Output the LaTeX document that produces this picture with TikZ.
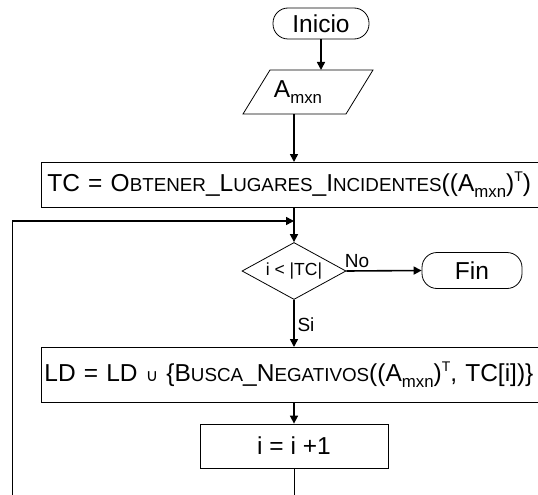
\documentclass[tikz,border=0pt]{standalone}
\usepackage{fontspec}
\setmainfont{Liberation Sans}
\newfontfamily\djv{DejaVu Sans}
\usetikzlibrary{arrows.meta,shapes.geometric}
\newcommand\smc[1]{{\fontsize{18.8}{19}\selectfont #1}}
\newcommand\sbs[1]{\raisebox{-5.5pt}{\fontsize{16.8}{17}\selectfont #1}}
\newcommand\sps[1]{\raisebox{10pt}{\fontsize{14}{14}\selectfont #1}}
\begin{document}
\begin{tikzpicture}[x=1pt,y=-1pt, font=\fontsize{24.5}{27}\selectfont,
  conn/.style={line width=1.6pt, -{Triangle[length=8pt,width=8pt]}},
  box/.style={draw, line width=0.8pt, inner sep=0pt},
  term/.style={draw, line width=0.8pt, rounded corners=15pt, inner sep=0pt},
  lbl/.style={font=\fontsize{19}{21}\selectfont, inner sep=0pt}]
\useasboundingbox (0,0) rectangle (538,495);
\clip (0,0) rectangle (538,495);
% start
\node[term, minimum width=96pt, minimum height=31pt] (ini) at (321,23.5) {Inicio};
% input parallelogram
\coordinate (pt) at (321,70);
\coordinate (pb) at (294,114);
\draw[line width=0.8pt] (270,70) -- (373,70) -- (346,114) -- (243,114) -- cycle;
\node[inner sep=0pt] (amn) at (298,92) {A\sbs{mxn}};
% TC box
\node[box, anchor=north west, minimum height=45pt, text width=520pt, inner xsep=6pt, align=left] (tc) at (41,162)
  {TC = O\smc{BTENER}\_L\smc{UGARES}\_I\smc{NCIDENTES}((A\sbs{mxn})\sps{T})};
% decision
\node[draw, line width=0.8pt, shape=diamond, aspect=1.83, minimum width=104pt, minimum height=57pt, inner sep=0pt,
  font=\fontsize{17.5}{20}\selectfont] (dec) at (294,271) {i < |TC|};
\node[term, minimum width=100pt, minimum height=36pt] (fin) at (472,270.5) {Fin};
\node[lbl] (no) at (357,261) {No};
\node[lbl] (si) at (306,325) {Si};
% LD box
\node[box, anchor=north west, minimum height=55pt, text width=540pt, inner xsep=3pt, align=left] (ld) at (41,347)
  {LD = LD {\djv\fontsize{17}{17}\selectfont ∪} \{B\smc{USCA}\_N\smc{EGATIVOS}((A\sbs{mxn})\sps{T}, TC[i])\}};
% increment
\node[box, minimum width=188pt, minimum height=44pt] (inc) at (294,446) {i = i +1};
% connectors
\coordinate (jn) at (294,221);
\coordinate (lb) at (12,520);
\draw[conn] (ini.south) -- (pt);
\draw[conn] (pb) -- (pb |- tc.north);
\draw[conn] (pb |- tc.south) -- (dec.north);
\draw[conn] (dec.east) -- (fin.west);
\draw[conn] (dec.south) -- (dec.south |- ld.north);
\draw[conn] (dec.south |- ld.south) -- (inc.north);
\draw[line width=0.9pt] (inc.south) -- (inc.south |- lb) -- (lb) -- (lb |- jn);
\draw[conn] (lb |- jn) -- (jn);
\end{tikzpicture}
\end{document}
